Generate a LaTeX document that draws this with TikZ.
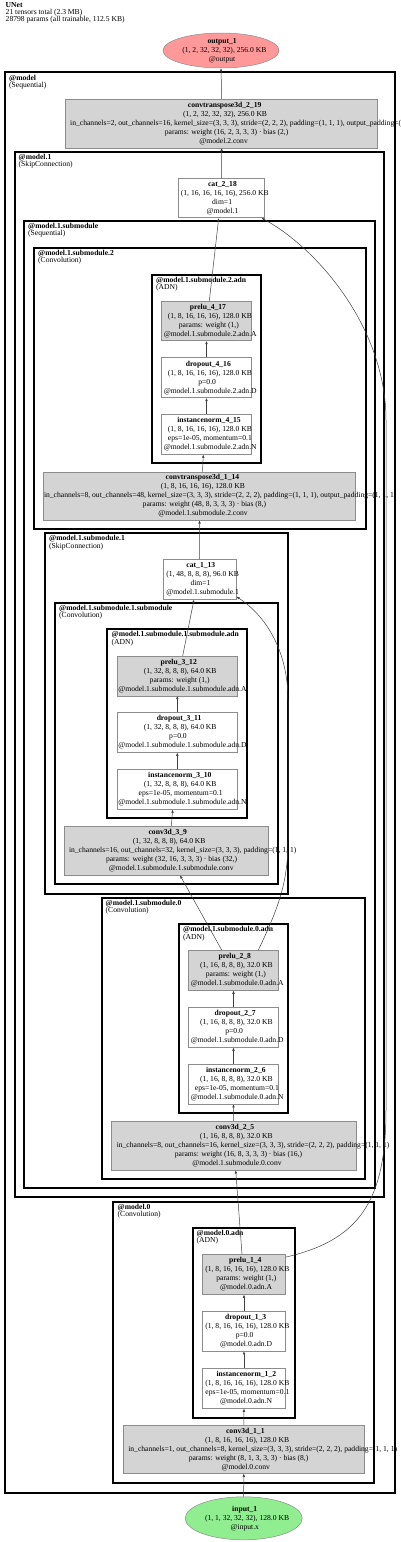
\documentclass[tikz,border=0pt]{standalone}
\usepackage{fontspec}
\setmainfont{Liberation Serif}
\usetikzlibrary{arrows.meta,shapes.geometric}
\definecolor{outred}{HTML}{FF9999}
\definecolor{ingreen}{HTML}{90EE90}
% a line that keeps the laid-out width and runs over to the right
\newcommand{\gvl}[1]{\makebox[0.92\width][l]{#1}}

\begin{document}
\begin{tikzpicture}[x=1pt, y=-1pt,
  font=\fontsize{7.6}{9}\selectfont,
  op/.style={draw=black!45, line width=0.5pt, align=center, inner sep=0pt},
  pbox/.style={op, fill=black!17},
  tbox/.style={op, fill=white},
  io/.style={op, ellipse},
  clu/.style={draw=black, line width=1.8pt},
  clab/.style={anchor=north west, align=left, inner sep=0pt, font=\fontsize{7.6}{7.5}\selectfont},
  arr/.style={-{Latex[length=3.2pt,width=2.6pt]}, draw=black!75, line width=0.5pt}
]
\useasboundingbox (0,0) rectangle (400,1542);

\node[clab, font=\fontsize{7.6}{7}\selectfont] (title) at (5.5,2.5)
  {\textbf{UNet}\\21 tensors total (2.3 MB)\\28798 params (all trainable, 112.5 KB)};

% clusters
\draw[clu] (5,72) rectangle (395,1493);
\node[clab] (lmodel) at (9,75) {\textbf{@model}\\(Sequential)};
\draw[clu] (15,151.7) rectangle (384,1196.7);
\node[clab] (lm1) at (18.5,154) {\textbf{@model.1}\\(SkipConnection)};
\draw[clu] (24,220.7) rectangle (375,1188);
\node[clab] (lm1s) at (28,223) {\textbf{@model.1.submodule}\\(Sequential)};
\draw[clu] (34,247.7) rectangle (365.7,529.3);
\node[clab] (lm1s2) at (38,250) {\textbf{@model.1.submodule.2}\\(Convolution)};
\draw[clu] (152.3,274.7) rectangle (261,463.3);
\node[clab] (lm1s2a) at (156,277) {\textbf{@model.1.submodule.2.adn}\\(ADN)};
\draw[clu] (45,533.3) rectangle (287.7,894);
\node[clab] (lm1s1) at (49,535.5) {\textbf{@model.1.submodule.1}\\(SkipConnection)};
\draw[clu] (55,602.7) rectangle (278.3,884);
\node[clab] (lm1s1s) at (59,605) {\textbf{@model.1.submodule.1.submodule}\\(Convolution)};
\draw[clu] (107.3,629) rectangle (246.7,818.3);
\node[clab] (lm1s1sa) at (111.5,631.5) {\textbf{@model.1.submodule.1.submodule.adn}\\(ADN)};
\draw[clu] (101.7,897.7) rectangle (365,1179);
\node[clab] (lm1s0) at (105.5,900) {\textbf{@model.1.submodule.0}\\(Convolution)};
\draw[clu] (179,924) rectangle (287.7,1113.3);
\node[clab] (lm1s0a) at (183,926.5) {\textbf{@model.1.submodule.0.adn}\\(ADN)};
\draw[clu] (113.3,1201.7) rectangle (374.3,1483.3);
\node[clab] (lm0) at (117.5,1204) {\textbf{@model.0}\\(Convolution)};
\draw[clu] (192.7,1227.7) rectangle (295,1418);
\node[clab] (lm0a) at (196.5,1230) {\textbf{@model.0.adn}\\(ADN)};

% tensors
\node[io, fill=outred, minimum width=116pt, minimum height=35pt] (out) at (221,50.5)
  {\gvl{\textbf{output\_1}}\\\gvl{(1, 2, 32, 32, 32), 256.0 KB}\\\gvl{@output}};
\node[pbox, minimum width=312pt, minimum height=48.7pt] (ct219) at (221.7,123.4)
  {\gvl{\textbf{convtranspose3d\_2\_19}}\\\gvl{(1, 2, 32, 32, 32), 256.0 KB}\\
   \makebox[303pt][l]{in\_channels=2, out\_channels=16, kernel\_size=(3, 3, 3), stride=(2, 2, 2), padding=(1, 1, 1), output\_padding=(1, 1, 1)}\\
   \gvl{params: weight (16, 2, 3, 3, 3) · bias (2,)}\\\gvl{@model.2.conv}};
\node[tbox, minimum width=86pt, minimum height=39.4pt] (cat218) at (221.3,198)
  {\gvl{\textbf{cat\_2\_18}}\\\gvl{(1, 16, 16, 16, 16), 256.0 KB}\\\gvl{dim=1}\\\gvl{@model.1}};
\node[pbox, minimum width=89.6pt, minimum height=39.4pt] (pr417) at (206.5,321)
  {\gvl{\textbf{prelu\_4\_17}}\\\gvl{(1, 8, 16, 16, 16), 128.0 KB}\\\gvl{params: weight (1,)}\\\gvl{@model.1.submodule.2.adn.A}};
\node[tbox, minimum width=89.6pt, minimum height=40pt] (dr416) at (206.5,377.7)
  {\gvl{\textbf{dropout\_4\_16}}\\\gvl{(1, 8, 16, 16, 16), 128.0 KB}\\\gvl{p=0.0}\\\gvl{@model.1.submodule.2.adn.D}};
\node[tbox, minimum width=89.6pt, minimum height=40pt] (in415) at (206.5,434.3)
  {\gvl{\textbf{instancenorm\_4\_15}}\\\gvl{(1, 8, 16, 16, 16), 128.0 KB}\\\gvl{eps=1e-05, momentum=0.1}\\\gvl{@model.1.submodule.2.adn.N}};
\node[pbox, minimum width=312.4pt, minimum height=48.3pt] (ct114) at (199.5,495.9)
  {\gvl{\textbf{convtranspose3d\_1\_14}}\\\gvl{(1, 8, 16, 16, 16), 128.0 KB}\\
   \makebox[311pt][l]{in\_channels=8, out\_channels=48, kernel\_size=(3, 3, 3), stride=(2, 2, 2), padding=(1, 1, 1), output\_padding=(1, 1, 1)}\\
   \gvl{params: weight (48, 8, 3, 3, 3) · bias (8,)}\\\gvl{@model.1.submodule.2.conv}};
\node[tbox, minimum width=72.7pt, minimum height=40pt] (cat113) at (199.7,579.3)
  {\gvl{\textbf{cat\_1\_13}}\\\gvl{(1, 48, 8, 8, 8), 96.0 KB}\\\gvl{dim=1}\\\gvl{@model.1.submodule.1}};
\node[pbox, minimum width=120pt, minimum height=39.7pt] (pr312) at (177.3,675.9)
  {\gvl{\textbf{prelu\_3\_12}}\\\gvl{(1, 32, 8, 8, 8), 64.0 KB}\\\gvl{params: weight (1,)}\\\gvl{@model.1.submodule.1.submodule.adn.A}};
\node[tbox, minimum width=120pt, minimum height=39.7pt] (dr311) at (177.3,732.5)
  {\gvl{\textbf{dropout\_3\_11}}\\\gvl{(1, 32, 8, 8, 8), 64.0 KB}\\\gvl{p=0.0}\\\gvl{@model.1.submodule.1.submodule.adn.D}};
\node[tbox, minimum width=120pt, minimum height=40pt] (in310) at (177.3,789.3)
  {\gvl{\textbf{instancenorm\_3\_10}}\\\gvl{(1, 32, 8, 8, 8), 64.0 KB}\\\gvl{eps=1e-05, momentum=0.1}\\\gvl{@model.1.submodule.1.submodule.adn.N}};
\node[pbox, minimum width=204pt, minimum height=49pt] (cv39) at (166.3,850.5)
  {\gvl{\textbf{conv3d\_3\_9}}\\\gvl{(1, 32, 8, 8, 8), 64.0 KB}\\
   \makebox[194.6pt][l]{in\_channels=16, out\_channels=32, kernel\_size=(3, 3, 3), padding=(1, 1, 1)}\\
   \gvl{params: weight (32, 16, 3, 3, 3) · bias (32,)}\\\gvl{@model.1.submodule.1.submodule.conv}};
\node[pbox, minimum width=89.6pt, minimum height=40pt] (pr28) at (233.5,970.3)
  {\gvl{\textbf{prelu\_2\_8}}\\\gvl{(1, 16, 8, 8, 8), 32.0 KB}\\\gvl{params: weight (1,)}\\\gvl{@model.1.submodule.0.adn.A}};
\node[tbox, minimum width=89.6pt, minimum height=40pt] (dr27) at (233.5,1027.3)
  {\gvl{\textbf{dropout\_2\_7}}\\\gvl{(1, 16, 8, 8, 8), 32.0 KB}\\\gvl{p=0.0}\\\gvl{@model.1.submodule.0.adn.D}};
\node[tbox, minimum width=89.6pt, minimum height=40pt] (in26) at (233.5,1084)
  {\gvl{\textbf{instancenorm\_2\_6}}\\\gvl{(1, 16, 8, 8, 8), 32.0 KB}\\\gvl{eps=1e-05, momentum=0.1}\\\gvl{@model.1.submodule.0.adn.N}};
\node[pbox, minimum width=244.7pt, minimum height=49pt] (cv25) at (233.4,1145.5)
  {\gvl{\textbf{conv3d\_2\_5}}\\\gvl{(1, 16, 8, 8, 8), 32.0 KB}\\
   \makebox[233.3pt][l]{in\_channels=8, out\_channels=16, kernel\_size=(3, 3, 3), stride=(2, 2, 2), padding=(1, 1, 1)}\\
   \gvl{params: weight (16, 8, 3, 3, 3) · bias (16,)}\\\gvl{@model.1.submodule.0.conv}};
\node[pbox, minimum width=83.4pt, minimum height=40pt] (pr14) at (244,1274.3)
  {\gvl{\textbf{prelu\_1\_4}}\\\gvl{(1, 8, 16, 16, 16), 128.0 KB}\\\gvl{params: weight (1,)}\\\gvl{@model.0.adn.A}};
\node[tbox, minimum width=83.4pt, minimum height=40pt] (dr13) at (244,1331)
  {\gvl{\textbf{dropout\_1\_3}}\\\gvl{(1, 8, 16, 16, 16), 128.0 KB}\\\gvl{p=0.0}\\\gvl{@model.0.adn.D}};
\node[tbox, minimum width=83.4pt, minimum height=40pt] (in12) at (244,1388.3)
  {\gvl{\textbf{instancenorm\_1\_2}}\\\gvl{(1, 8, 16, 16, 16), 128.0 KB}\\\gvl{eps=1e-05, momentum=0.1}\\\gvl{@model.0.adn.N}};
\node[pbox, minimum width=241pt, minimum height=48.3pt] (cv11) at (243.8,1449.2)
  {\gvl{\textbf{conv3d\_1\_1}}\\\gvl{(1, 8, 16, 16, 16), 128.0 KB}\\
   \makebox[231pt][l]{in\_channels=1, out\_channels=8, kernel\_size=(3, 3, 3), stride=(2, 2, 2), padding=(1, 1, 1)}\\
   \gvl{params: weight (8, 1, 3, 3, 3) · bias (8,)}\\\gvl{@model.0.conv}};
\node[io, fill=ingreen, minimum width=117pt, minimum height=43pt] (inp) at (243.7,1518.3)
  {\gvl{\textbf{input\_1}}\\\gvl{(1, 1, 32, 32, 32), 128.0 KB}\\\gvl{@input.x}};

% edges
\draw[arr] (inp.north) -- (cv11.south);
\draw[arr] (cv11.north) -- (in12.south);
\draw[arr] (in12) -- (dr13);
\draw[arr] (dr13) -- (pr14);
\draw[arr] ([xshift=-2pt]pr14.north) -- ([xshift=2.3pt]cv25.south);
\draw[arr] ([yshift=-3pt]pr14.north east) .. controls (360,1240) and (386,1200) .. (386,1110)
  -- (386,420) .. controls (386,330) and (320,250) .. ([xshift=-3pt]cat218.south east);
\draw[arr] (cv25.north) -- (in26.south);
\draw[arr] (in26) -- (dr27);
\draw[arr] (dr27) -- (pr28);
\draw[arr] ([xshift=-11.8pt]pr28.north) -- ([xshift=13.7pt]cv39.south);
\draw[arr] ([xshift=24.8pt]pr28.north) .. controls (280,905) and (288,880) .. (288,840)
  -- (288,700) .. controls (288,650) and (265,615) .. ([yshift=3pt]cat113.south east);
\draw[arr] ([xshift=5pt]cv39.north) -- ([xshift=-4.6pt]in310.south);
\draw[arr] (in310) -- (dr311);
\draw[arr] (dr311) -- (pr312);
\draw[arr] ([xshift=5.4pt]pr312.north) -- ([xshift=-5.7pt]cat113.south);
\draw[arr] (cat113.north) -- (ct114.south);
\draw[arr] ([xshift=3pt]ct114.north) -- ([xshift=-3.2pt]in415.south);
\draw[arr] (in415) -- (dr416);
\draw[arr] (dr416) -- (pr417);
\draw[arr] ([xshift=2.8pt]pr417.north) -- ([xshift=-2.6pt]cat218.south);
\draw[arr] (cat218.north) -- (ct219.south);
\draw[arr] (ct219.north) -- (out.south);
\end{tikzpicture}
\end{document}
